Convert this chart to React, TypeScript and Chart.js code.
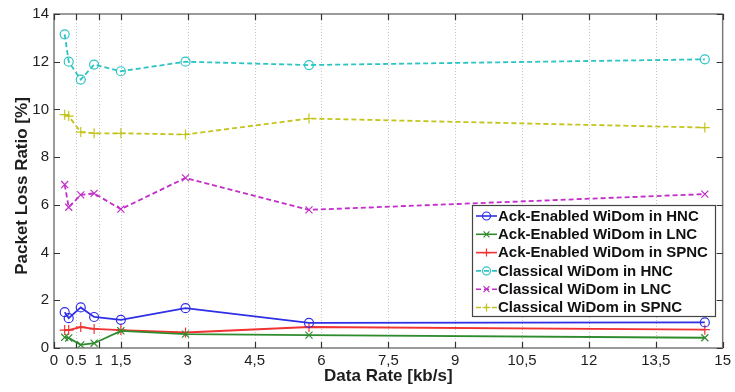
import React, { useEffect, useRef } from "react";
import { Chart, registerables } from "chart.js";

Chart.register(...registerables);

// ---- data ----
const dataRates = [0.24, 0.33, 0.6, 0.9, 1.5, 2.95, 5.72, 14.6];
const ackHNC = [1.5, 1.25, 1.7, 1.3, 1.18, 1.67, 1.05, 1.07];
const ackLNC = [0.45, 0.42, 0.13, 0.2, 0.72, 0.58, 0.54, 0.43];
const ackSPNC = [0.75, 0.75, 0.88, 0.8, 0.75, 0.65, 0.88, 0.77];
const classicHNC = [13.15, 12.0, 11.25, 11.88, 11.6, 12.0, 11.86, 12.1];
const classicLNC = [6.85, 5.9, 6.42, 6.48, 5.82, 7.13, 5.79, 6.45];
const classicSPNC = [9.78, 9.72, 9.05, 9.0, 9.0, 8.95, 9.62, 9.24];

const seriesLabels = [
  "Ack-Enabled WiDom in HNC",
  "Ack-Enabled WiDom in LNC",
  "Ack-Enabled WiDom in SPNC",
  "Classical WiDom in HNC",
  "Classical WiDom in LNC",
  "Classical WiDom in SPNC",
];

const xTickValues = [0, 0.5, 1, 1.5, 3, 4.5, 6, 7.5, 9, 10.5, 12, 13.5, 15];
const xTickLabels = ["0", "0.5", "1", "1,5", "3", "4,5", "6", "7,5", "9", "10,5", "12", "13,5", "15"];
const yTickValues = [0, 2, 4, 6, 8, 10, 12, 14];

const xTitle = "Data Rate [kb/s]";
const yTitle = "Packet Loss Ratio [%]";

// ---- styles ----
const FONT = "'Liberation Sans', Arial, Helvetica, sans-serif";
const seriesValues = [ackHNC, ackLNC, ackSPNC, classicHNC, classicLNC, classicSPNC];
const seriesColors = ["#2f2fe6", "#2e8b2e", "#f03232", "#2ec4c4", "#c22ec8", "#c4c41e"];
const seriesMarkers = ["circle", "crossRot", "cross", "circle", "crossRot", "cross"];
const seriesDashed = [false, false, false, true, true, true];

function drawMarker(ctx: CanvasRenderingContext2D, style: string, x: number, y: number, r: number) {
  ctx.beginPath();
  if (style === "circle") {
    ctx.arc(x, y, r, 0, Math.PI * 2);
  } else if (style === "cross") {
    ctx.moveTo(x - r, y);
    ctx.lineTo(x + r, y);
    ctx.moveTo(x, y - r);
    ctx.lineTo(x, y + r);
  } else {
    const d = r * 0.75;
    ctx.moveTo(x - d, y - d);
    ctx.lineTo(x + d, y + d);
    ctx.moveTo(x - d, y + d);
    ctx.lineTo(x + d, y - d);
  }
  ctx.stroke();
}

const framePlugin = {
  id: "frame",
  beforeDatasetsDraw(chart: any) {
    const { ctx, chartArea } = chart;
    const { left, right, top, bottom } = chartArea;
    const xs = chart.scales.x;
    const ys = chart.scales.y;
    ctx.save();
    // dotted vertical grid
    ctx.strokeStyle = "#c4c4c4";
    ctx.lineWidth = 1;
    ctx.setLineDash([1, 2]);
    xTickValues.forEach((v) => {
      if (v <= 0 || v >= 15) return;
      const px = Math.round(xs.getPixelForValue(v)) + 0.5;
      ctx.beginPath();
      ctx.moveTo(px, top);
      ctx.lineTo(px, bottom);
      ctx.stroke();
    });
    ctx.setLineDash([]);
    // box
    ctx.strokeStyle = "#7a7a7a";
    ctx.lineWidth = 1.5;
    ctx.strokeRect(left, top, right - left, bottom - top);
    // inward ticks
    ctx.strokeStyle = "#333";
    ctx.lineWidth = 1.2;
    const tl = 6;
    xTickValues.forEach((v) => {
      const px = Math.round(xs.getPixelForValue(v)) + 0.5;
      ctx.beginPath();
      ctx.moveTo(px, bottom);
      ctx.lineTo(px, bottom - tl);
      ctx.moveTo(px, top);
      ctx.lineTo(px, top + tl);
      ctx.stroke();
    });
    yTickValues.forEach((v) => {
      const py = Math.round(ys.getPixelForValue(v)) + 0.5;
      ctx.beginPath();
      ctx.moveTo(left, py);
      ctx.lineTo(left + tl, py);
      ctx.moveTo(right, py);
      ctx.lineTo(right - tl, py);
      ctx.stroke();
    });
    // y title
    ctx.translate(22, 186);
    ctx.rotate(-Math.PI / 2);
    ctx.fillStyle = "#1e1e1e";
    ctx.font = `bold 17px ${FONT}`;
    ctx.textAlign = "center";
    ctx.textBaseline = "middle";
    ctx.fillText(yTitle, 0, 0);
    ctx.restore();
  },
  afterDatasetsDraw(chart: any) {
    const { ctx } = chart;
    const bx = 472;
    const by = 205;
    const bw = 243;
    const bh = 111;
    ctx.save();
    ctx.fillStyle = "#ffffff";
    ctx.fillRect(bx, by, bw, bh);
    ctx.strokeStyle = "#444";
    ctx.lineWidth = 1.2;
    ctx.strokeRect(bx + 0.5, by + 0.5, bw, bh);
    chart.data.datasets.forEach((ds: any, i: number) => {
      const cy = by + 11 + i * 18.3;
      ctx.strokeStyle = ds.borderColor;
      ctx.lineWidth = 1.6;
      ctx.setLineDash(ds.borderDash || []);
      ctx.beginPath();
      ctx.moveTo(bx + 4, cy);
      ctx.lineTo(bx + 25, cy);
      ctx.stroke();
      ctx.setLineDash([]);
      ctx.lineWidth = 1.2;
      drawMarker(ctx, ds.pointStyle, bx + 14.5, cy, 4);
      ctx.fillStyle = "#111";
      ctx.font = `bold 15px ${FONT}`;
      ctx.textBaseline = "middle";
      ctx.textAlign = "left";
      ctx.fillText(ds.label, bx + 26, cy + 0.5);
    });
    ctx.restore();
  },
};

export default function App() {
  const canvasRef = useRef<HTMLCanvasElement | null>(null);

  useEffect(() => {
    const canvas = canvasRef.current;
    if (!canvas) return;
    const datasets = seriesLabels.map((label, i) => ({
      label,
      data: dataRates.map((x, j) => ({ x, y: seriesValues[i][j] })),
      borderColor: seriesColors[i],
      backgroundColor: "rgba(0,0,0,0)",
      pointBorderColor: seriesColors[i],
      pointBackgroundColor: "rgba(0,0,0,0)",
      borderWidth: 1.8,
      borderDash: seriesDashed[i] ? [5, 3] : [],
      pointStyle: seriesMarkers[i],
      pointRadius: seriesMarkers[i] === "circle" ? 4.5 : 5,
      pointBorderWidth: 1.2,
      tension: 0,
      fill: false,
    }));

    const chart = new Chart(canvas, {
      type: "line",
      data: { datasets },
      plugins: [framePlugin],
      options: {
        animation: false,
        responsive: false,
        maintainAspectRatio: false,
        layout: { padding: { top: 10, right: 9, left: 0, bottom: 0 } },
        plugins: { legend: { display: false }, tooltip: { enabled: false } },
        scales: {
          x: {
            type: "linear",
            min: 0,
            max: 15,
            afterFit: (s: any) => {
              s.height = 44;
            },
            afterBuildTicks: (s: any) => {
              s.ticks = xTickValues.map((v) => ({ value: v }));
            },
            grid: { display: false, drawTicks: false },
            border: { display: false },
            ticks: {
              autoSkip: false,
              maxRotation: 0,
              minRotation: 0,
              padding: 4,
              color: "#1e1e1e",
              font: { family: FONT, size: 15 },
              callback: (_v: any, idx: number) => xTickLabels[idx],
            },
            title: {
              display: true,
              text: xTitle,
              color: "#1e1e1e",
              font: { family: FONT, size: 17, weight: "bold" },
              padding: { top: 0, bottom: 5 },
            },
          },
          y: {
            type: "linear",
            min: 0,
            max: 14,
            afterFit: (s: any) => {
              s.width = 54;
            },
            afterBuildTicks: (s: any) => {
              s.ticks = yTickValues.map((v) => ({ value: v }));
            },
            grid: { display: false, drawTicks: false },
            border: { display: false },
            ticks: {
              padding: 5,
              color: "#1e1e1e",
              font: { family: FONT, size: 15 },
            },
            title: { display: false },
          },
        },
      },
    });
    return () => chart.destroy();
  }, []);

  return (
    <div style={{ position: "fixed", left: 0, top: 0, width: 735, height: 392, background: "#fff" }}>
      <canvas ref={canvasRef} width={735} height={392} style={{ display: "block" }} />
    </div>
  );
}
